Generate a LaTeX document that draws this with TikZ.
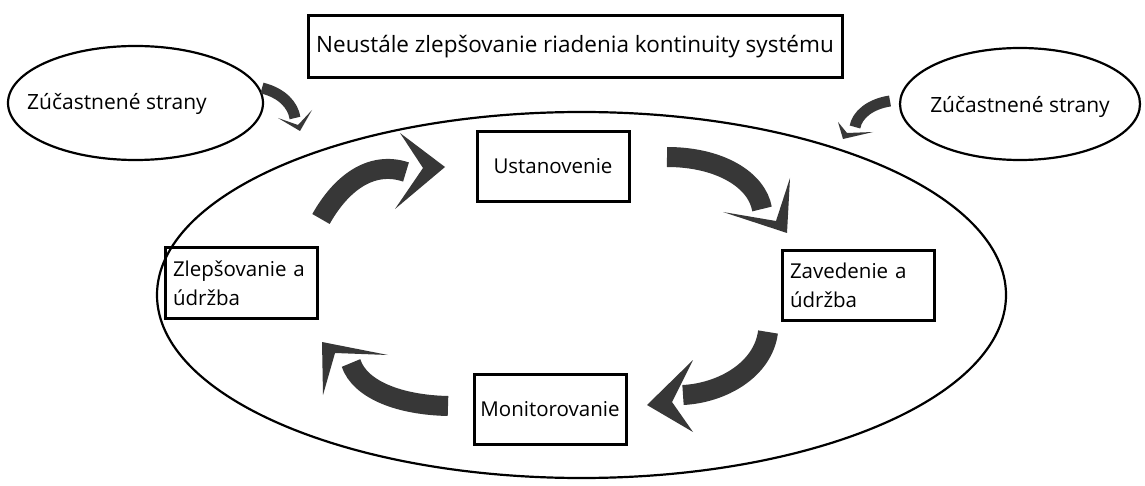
\documentclass[tikz,border=0pt]{standalone}
\usepackage{fontspec}
\setmainfont{Open Sans}
\usetikzlibrary{shapes.geometric}
\definecolor{arr}{RGB}{55,55,55}
\begin{document}
\begin{tikzpicture}[x=1pt,y=-1pt,
  box/.style={draw,line width=3pt,rectangle,minimum width=152pt,minimum height=70pt,inner sep=0pt},
  lbox/.style={box,text width=136pt,align=left},
  oval/.style={draw,line width=2.2pt,ellipse,inner sep=0pt},
  band/.style={draw=arr,line width=20pt,line cap=butt},
  sband/.style={draw=arr,line width=11pt,line cap=butt},
  head/.style={fill=arr},
  every node/.style={font=\fontsize{20.5}{29}\selectfont}]
\useasboundingbox (0,0) rectangle (1145,486);
\fill[white] (0,0) rectangle (1145,486);
% big ellipse
\node[oval,minimum width=849pt,minimum height=366pt] (big) at (581.5,295) {};
% small ellipses
\node[oval,minimum width=255pt,minimum height=114pt] (le) at (135.5,103) {};
\node[font=\fontsize{21}{29}\selectfont] (lt) at (117,104) {Zúčastnené strany};
\node[oval,minimum width=240pt,minimum height=112pt] (re) at (1020,104) {};
\node[font=\fontsize{21}{29}\selectfont] (rt) at (1020,107) {Zúčastnené strany};
% title
\node[box,minimum width=534pt,minimum height=62pt,font=\fontsize{22.5}{29}\selectfont] (title) at (575,47) {Neustále zlepšovanie riadenia kontinuity systému};
% boxes
\node[box] (ust) at (553,166.5) {Ustanovenie};
\node[lbox] (zav) at (858,285.5) {Zavedenie a\\údržba};
\node[lbox] (zle) at (241,283) {Zlepšovanie a\\údržba};
\node[box] (mon) at (550,409) {Monitorovanie};
% arrows: band + chevron
\draw[band] (321,219) .. controls (340,185) and (370,160) .. (406,172);
\fill[head] (400,133) -- (445,167) -- (395,209) -- (423,168) -- cycle;
\draw[band] (667,157) .. controls (720,157) and (757,180) .. (762,209);
\fill[head] (790,178) -- (787,233) -- (723,212) -- (776,221) -- cycle;
\draw[band] (768,332) .. controls (763,370) and (722,393) .. (683,395);
\fill[head] (693,360) -- (647,405) -- (693,432) -- (672,402) -- cycle;
\draw[band] (448,406) .. controls (400,405) and (360,390) .. (351,363);
\fill[head] (388,355) -- (322,342) -- (323,395) -- (335,353) -- cycle;
\draw[sband] (262,88) .. controls (282,93) and (293,105) .. (295,118);
\fill[head] (278,118) -- (300,131) -- (312,110) -- (298,125) -- cycle;
\draw[sband] (890,101) .. controls (870,104) and (857,115) .. (855,127);
\fill[head] (838,122) -- (843,139) -- (873,132) -- (847,133) -- cycle;
\end{tikzpicture}
\end{document}
